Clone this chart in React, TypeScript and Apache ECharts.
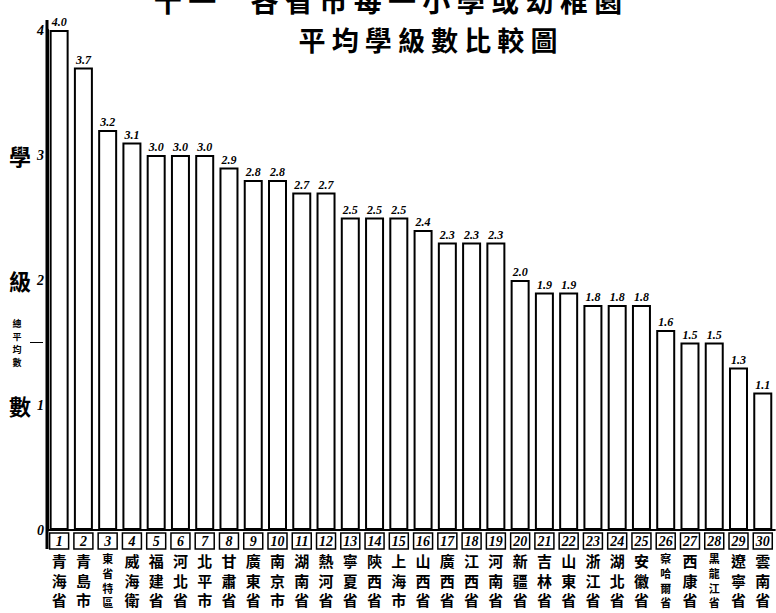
import React, { useEffect, useRef } from "react";
import * as echarts from "echarts";

const categories = [
  "青海省", "青島市", "東省特區", "威海衛", "福建省", "河北省", "北平市", "甘肅省", "廣東省", "南京市",
  "湖南省", "熱河省", "寧夏省", "陝西省", "上海市", "山西省", "廣西省", "江西省", "河南省", "新疆省",
  "吉林省", "山東省", "浙江省", "湖北省", "安徽省", "察哈爾省", "西康省", "黑龍江省", "遼寧省", "雲南省",
];
const values = [
  4.0, 3.7, 3.2, 3.1, 3.0, 3.0, 3.0, 2.9, 2.8, 2.8,
  2.7, 2.7, 2.5, 2.5, 2.5, 2.4, 2.3, 2.3, 2.3, 2.0,
  1.9, 1.9, 1.8, 1.8, 1.8, 1.6, 1.5, 1.5, 1.3, 1.1,
];
const yTicks = [0, 1, 2, 3, 4];
const titleLine1 = "十 一　 各 省 市 每 一 小 學 或 幼 稚 園";
const titleLine2 = "平 均 學 級 數 比 較 圖";
const yAxisChars = [
  { ch: "學", v: 3 },
  { ch: "級", v: 2 },
  { ch: "數", v: 1 },
];
const overallAvgLabel = "總平均數";
const overallAvg = 1.5;

const CJK = '"Noto Sans CJK TC", "Noto Sans CJK SC", sans-serif';
const NUM = '"Liberation Serif", "DejaVu Serif", serif';

export default function App() {
  const ref = useRef<HTMLDivElement>(null);
  useEffect(() => {
    if (!ref.current) return;
    const chart = echarts.init(ref.current, null, { renderer: "svg" });
    const gridTop = 30;
    const gridBottom = 83;
    const H = 613;
    const plotH = H - gridTop - gridBottom;
    const yPix = (v: number) => gridTop + plotH * (1 - v / 4);

    const graphics: any[] = [
      {
        type: "text",
        left: "center",
        top: -14,
        style: { text: titleLine1, font: `bold 28px ${CJK}`, fill: "#000" },
      },
      {
        type: "text",
        x: 428,
        y: 39,
        style: {
          text: titleLine2,
          font: `bold 27px ${CJK}`,
          fill: "#000",
          align: "center",
          verticalAlign: "middle",
        },
      },
      {
        type: "line",
        shape: { x1: 47, y1: 20, x2: 47, y2: 549 },
        style: { stroke: "#000", lineWidth: 3 },
      },
      {
        type: "line",
        shape: { x1: 30, y1: yPix(overallAvg), x2: 43, y2: yPix(overallAvg) },
        style: { stroke: "#000", lineWidth: 1 },
      },
      {
        type: "text",
        x: 17,
        y: yPix(overallAvg),
        style: {
          text: overallAvgLabel.split("").join("\n"),
          font: `bold 9px ${CJK}`,
          lineHeight: 13,
          fill: "#000",
          align: "center",
          verticalAlign: "middle",
        },
      },
      ...yAxisChars.map((c) => ({
        type: "text",
        x: 20,
        y: yPix(c.v),
        style: {
          text: c.ch,
          font: `bold 22px ${CJK}`,
          fill: "#000",
          align: "center",
          verticalAlign: "middle",
        },
      })),
    ];

    chart.setOption({
      animation: false,
      backgroundColor: "#fff",
      grid: { left: 47, right: 0, top: gridTop, bottom: gridBottom },
      xAxis: {
        type: "category",
        data: categories,
        axisLine: { show: true, lineStyle: { color: "#000", width: 2 } },
        axisTick: { show: false },
        axisLabel: {
          interval: 0,
          margin: 1,
          formatter: (v: string, i: number) => {
            const chars = v.split("");
            const key = chars.length > 3 ? "s" : "n";
            return `{box|${i + 1}}\n` + chars.map((c) => `{${key}|${c}}`).join("\n");
          },
          rich: {
            box: {
              width: 19,
              height: 16,
              lineHeight: 20,
              borderColor: "#000",
              borderWidth: 1.5,
              align: "center",
              verticalAlign: "middle",
              fontFamily: NUM,
              fontStyle: "italic",
              fontWeight: "bold",
              fontSize: 14,
              color: "#000",
            },
            n: {
              fontFamily: CJK,
              fontWeight: "bold",
              fontSize: 15,
              lineHeight: 19.5,
              color: "#000",
              align: "center",
            },
            s: {
              fontFamily: CJK,
              fontWeight: "bold",
              fontSize: 11,
              lineHeight: 14.6,
              color: "#000",
              align: "center",
            },
          },
        },
      },
      yAxis: {
        type: "value",
        min: 0,
        max: 4,
        interval: 1,
        splitLine: { show: false },
        axisLine: { show: true, lineStyle: { color: "#000", width: 3 } },
        axisTick: { show: false },
        axisLabel: {
          margin: 3,
          color: "#000",
          fontFamily: NUM,
          fontStyle: "italic",
          fontWeight: "bold",
          fontSize: 14,
          formatter: (v: number) => (yTicks.includes(v) ? String(v) : ""),
        },
      },
      series: [
        {
          type: "bar",
          data: values,
          barWidth: 19,
          itemStyle: { color: "#fff", borderColor: "#000", borderWidth: 2 },
          label: {
            show: true,
            position: "top",
            distance: 2,
            formatter: (p: any) => p.value.toFixed(1),
            fontFamily: NUM,
            fontStyle: "italic",
            fontWeight: "bold",
            fontSize: 12,
            color: "#000",
          },
        },
      ],
      graphic: graphics,
    });
    return () => chart.dispose();
  }, []);
  return <div ref={ref} style={{ width: 776, height: 613, position: "absolute", left: 0, top: 0 }} />;
}
